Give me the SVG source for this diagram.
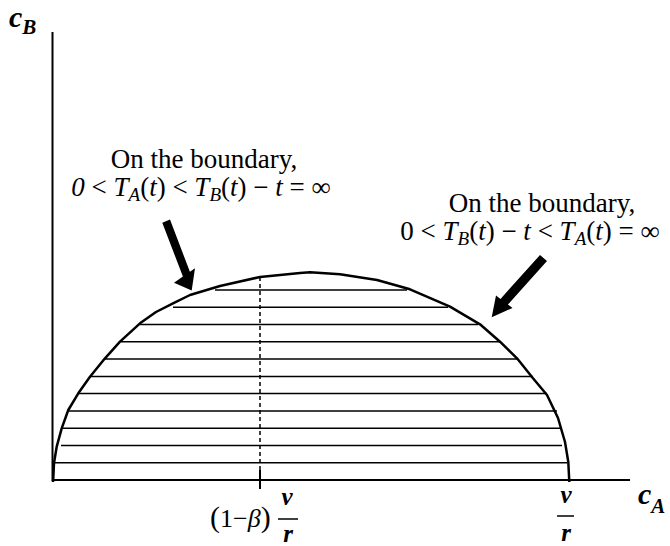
<svg xmlns="http://www.w3.org/2000/svg" width="670" height="546" viewBox="0 0 670 546">
<style>
text{font-family:"Liberation Serif","Times New Roman",serif;fill:#000}
.lbl{font-size:27px}
.it{font-style:italic}
.sub{font-size:19px;font-style:italic}
.ax{font-size:30px;font-weight:bold;font-style:italic}
.axs{font-size:21px;font-weight:bold;font-style:italic}
.fr{font-size:25px;font-weight:bold;font-style:italic}
.hatch line{stroke:#000;stroke-width:1.5}
</style>
<rect width="670" height="546" fill="#fff"/>
<g id="axes" fill="none" stroke="#000">
<path d="M52.5,32 V480 H630" stroke-width="2"/>
</g>
<g id="region">
<g class="hatch">
<line x1="215" y1="290" x2="407" y2="290"/>
<line x1="173" y1="307.3" x2="448" y2="307.3"/>
<line x1="140" y1="324.5" x2="478" y2="324.5"/>
<line x1="121" y1="341.8" x2="500" y2="341.8"/>
<line x1="105" y1="359.1" x2="518" y2="359.1"/>
<line x1="90" y1="376.4" x2="533" y2="376.4"/>
<line x1="79" y1="393.6" x2="547" y2="393.6"/>
<line x1="69" y1="410.9" x2="557" y2="410.9"/>
<line x1="63" y1="428.2" x2="562" y2="428.2"/>
<line x1="61" y1="445.5" x2="562" y2="445.5"/>
<line x1="55" y1="462.7" x2="567" y2="462.7"/>
</g>
<polyline fill="none" stroke="#000" stroke-width="2.5" stroke-linejoin="round" points="53,482 53.3,478 54,463 56.7,446.7 61.7,428.3 68.3,410 78.3,393.3 90,376.7 105,358.3 120,341.7 140,323.3 156,312 173,303.3 190,295 220,286 260,277 300,273 310,272.3 340,274.3 377,280 410,289.3 450,306.7 480,324.3 500,341.7 517,358.3 533,378.3 547,395 558,418 565,442 568.3,462 569.3,482"/>
<line x1="260" y1="277" x2="260" y2="470" stroke="#000" stroke-width="1.5" stroke-dasharray="4 3"/>
<line x1="260" y1="470" x2="260" y2="489" stroke="#000" stroke-width="2"/>
</g>
<g id="connectors">
<polygon points="162.3,222.7 170,219.5 189.9,271.8 195,268.3 191.7,290.5 174,282.7 182.9,276.6" fill="#000"/>
<polygon points="540,255 547,261 507.9,304.5 512.5,308 491.7,317.3 496,295.5 500.5,298.9" fill="#000"/>
</g>
<g id="label-left">
<text class="lbl" x="204" y="168" text-anchor="middle">On the boundary,</text>
<text class="lbl" x="201" y="196" text-anchor="middle"><tspan class="it">0</tspan> &lt; <tspan class="it">T</tspan><tspan class="sub" dy="5">A</tspan><tspan dy="-5">(</tspan><tspan class="it">t</tspan>) &lt; <tspan class="it">T</tspan><tspan class="sub" dy="5">B</tspan><tspan dy="-5">(</tspan><tspan class="it">t</tspan>) − <tspan class="it">t</tspan> = ∞</text>
</g>
<g id="label-right">
<text class="lbl" x="542" y="212" text-anchor="middle">On the boundary,</text>
<text class="lbl" x="530" y="240" text-anchor="middle">0 &lt; <tspan class="it">T</tspan><tspan class="sub" dy="5">B</tspan><tspan dy="-5">(</tspan><tspan class="it">t</tspan>) − <tspan class="it">t</tspan> &lt; <tspan class="it">T</tspan><tspan class="sub" dy="5">A</tspan><tspan dy="-5">(</tspan><tspan class="it">t</tspan>) = ∞</text>
</g>
<g id="axis-labels">
<text x="9" y="27"><tspan class="ax">c</tspan><tspan class="axs" dy="7">B</tspan></text>
<text x="638" y="504"><tspan class="ax">c</tspan><tspan class="axs" dy="9">A</tspan></text>
</g>
<g id="tick-labels">
<text x="210" y="527" font-size="26"><tspan font-size="30">(</tspan>1−<tspan class="it">β</tspan><tspan font-size="30">)</tspan></text>
<text class="fr" x="287" y="505" text-anchor="middle">v</text>
<line x1="278" y1="519" x2="298" y2="519" stroke="#000" stroke-width="1.5"/>
<text class="fr" x="288" y="542" text-anchor="middle">r</text>
<text class="fr" x="566" y="503" text-anchor="middle">v</text>
<line x1="557" y1="516" x2="574" y2="516" stroke="#000" stroke-width="1.5"/>
<text class="fr" x="566" y="541" text-anchor="middle">r</text>
</g>
</svg>
